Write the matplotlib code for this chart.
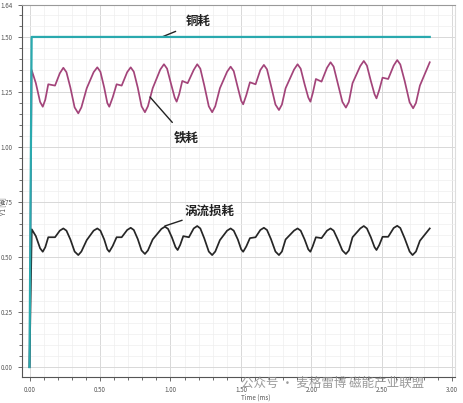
import matplotlib.pyplot as plt
from matplotlib.ticker import MultipleLocator, FixedLocator

plt.rcParams['font.family'] = ['Noto Sans CJK SC', 'DejaVu Sans']

# copper loss (teal)
cu_t = [0.0, 0.015, 2.84]
cu_p = [0.0, 1.50, 1.50]

# iron loss (magenta)
fe_t = [0.000, 0.015, 0.045, 0.075, 0.094, 0.112, 0.133, 0.181, 0.215, 0.240, 0.262, 0.290,
        0.320, 0.346, 0.368, 0.406, 0.455, 0.481, 0.503, 0.530, 0.552, 0.566, 0.590, 0.618,
        0.654, 0.693, 0.718, 0.740, 0.768, 0.795, 0.819, 0.840, 0.874, 0.928, 0.954, 0.976,
        1.005, 1.030, 1.044, 1.062, 1.084, 1.122, 1.165, 1.190, 1.212, 1.240, 1.272, 1.296,
        1.318, 1.351, 1.402, 1.427, 1.449, 1.478, 1.502, 1.516, 1.538, 1.564, 1.604, 1.638,
        1.663, 1.685, 1.713, 1.745, 1.770, 1.791, 1.817, 1.877, 1.902, 1.924, 1.952, 1.978,
        1.993, 2.010, 2.032, 2.072, 2.111, 2.136, 2.158, 2.187, 2.220, 2.245, 2.266, 2.292,
        2.347, 2.372, 2.394, 2.422, 2.448, 2.462, 2.482, 2.505, 2.545, 2.584, 2.609, 2.631,
        2.662, 2.697, 2.722, 2.742, 2.770, 2.840]
fe_p = [0.000, 1.350, 1.290, 1.205, 1.183, 1.215, 1.285, 1.279, 1.335, 1.360, 1.340, 1.270,
        1.180, 1.153, 1.180, 1.267, 1.340, 1.362, 1.342, 1.270, 1.200, 1.183, 1.225, 1.285,
        1.279, 1.340, 1.362, 1.342, 1.270, 1.185, 1.158, 1.185, 1.267, 1.352, 1.376, 1.356,
        1.285, 1.225, 1.206, 1.240, 1.300, 1.290, 1.350, 1.376, 1.356, 1.280, 1.185, 1.158,
        1.185, 1.267, 1.342, 1.365, 1.345, 1.270, 1.210, 1.194, 1.235, 1.294, 1.285, 1.350,
        1.373, 1.353, 1.280, 1.193, 1.168, 1.193, 1.267, 1.352, 1.376, 1.356, 1.285, 1.225,
        1.206, 1.245, 1.309, 1.297, 1.360, 1.385, 1.365, 1.290, 1.205, 1.179, 1.205, 1.290,
        1.368, 1.391, 1.370, 1.300, 1.240, 1.221, 1.260, 1.315, 1.309, 1.370, 1.395, 1.375,
        1.300, 1.203, 1.176, 1.200, 1.279, 1.385]

# eddy current loss (black)
ed_t = [0.000, 0.016, 0.045, 0.075, 0.094, 0.112, 0.133, 0.181, 0.215, 0.240, 0.262, 0.290,
        0.320, 0.346, 0.368, 0.406, 0.455, 0.481, 0.503, 0.530, 0.552, 0.566, 0.590, 0.618,
        0.654, 0.693, 0.718, 0.740, 0.768, 0.795, 0.819, 0.840, 0.874, 0.936, 0.961, 0.983,
        1.010, 1.036, 1.051, 1.069, 1.091, 1.131, 1.165, 1.190, 1.212, 1.240, 1.272, 1.296,
        1.318, 1.351, 1.402, 1.427, 1.449, 1.478, 1.502, 1.516, 1.538, 1.564, 1.604, 1.638,
        1.663, 1.685, 1.713, 1.745, 1.770, 1.791, 1.817, 1.877, 1.902, 1.924, 1.952, 1.978,
        1.993, 2.010, 2.032, 2.072, 2.111, 2.136, 2.158, 2.187, 2.220, 2.245, 2.266, 2.292,
        2.347, 2.372, 2.394, 2.422, 2.448, 2.462, 2.482, 2.505, 2.545, 2.584, 2.609, 2.631,
        2.662, 2.697, 2.718, 2.742, 2.770, 2.840]
ed_p = [0.000, 0.626, 0.595, 0.540, 0.524, 0.545, 0.590, 0.590, 0.620, 0.630, 0.620, 0.580,
        0.525, 0.509, 0.525, 0.577, 0.620, 0.630, 0.620, 0.580, 0.535, 0.524, 0.550, 0.590,
        0.590, 0.623, 0.633, 0.623, 0.582, 0.530, 0.514, 0.530, 0.580, 0.628, 0.638, 0.628,
        0.590, 0.545, 0.532, 0.555, 0.595, 0.590, 0.630, 0.641, 0.630, 0.585, 0.525, 0.509,
        0.525, 0.577, 0.620, 0.630, 0.620, 0.580, 0.535, 0.524, 0.548, 0.586, 0.590, 0.623,
        0.633, 0.623, 0.582, 0.525, 0.509, 0.525, 0.580, 0.620, 0.630, 0.620, 0.580, 0.535,
        0.524, 0.550, 0.590, 0.586, 0.620, 0.630, 0.620, 0.580, 0.530, 0.514, 0.530, 0.590,
        0.630, 0.641, 0.630, 0.590, 0.545, 0.532, 0.555, 0.592, 0.592, 0.632, 0.642, 0.632,
        0.585, 0.525, 0.509, 0.525, 0.574, 0.630]

fig = plt.figure(figsize=(4.63, 4.03), dpi=100)
ax = fig.add_axes([0.047, 0.0645, 0.936, 0.923])

ax.plot(cu_t, cu_p, color='#2aa9ae', lw=1.6, zorder=4)
ax.plot(fe_t, fe_p, color='#a3447a', lw=1.25, zorder=3)
ax.plot(ed_t, ed_p, color='#262626', lw=1.25, zorder=3)

ax.set_xlim(-0.055, 3.02)
ax.set_ylim(-0.045, 1.645)
ax.xaxis.set_major_locator(MultipleLocator(0.5))
ax.xaxis.set_minor_locator(MultipleLocator(0.1))
ax.yaxis.set_major_locator(FixedLocator([0, 0.25, 0.5, 0.75, 1.0, 1.25, 1.5, 1.645]))
ax.yaxis.set_minor_locator(MultipleLocator(0.05))
ax.set_yticklabels(['0.00', '0.25', '0.50', '0.75', '1.00', '1.25', '1.50', '1.64'])
ax.xaxis.set_major_formatter(plt.FormatStrFormatter('%.2f'))

ax.grid(which='major', color='#d8d8d8', lw=0.7)
ax.grid(which='minor', color='#eeeeee', lw=0.5)
ax.set_axisbelow(True)
ax.tick_params(which='both', direction='out', labelsize=4.5, colors='#555555',
               length=3, width=0.6)
ax.tick_params(which='minor', length=2)
for side in ['left', 'bottom']:
    ax.spines[side].set_color('#555555')
    ax.spines[side].set_linewidth(0.8)
ax.spines['top'].set_color('#999999')
ax.spines['right'].set_color('#dddddd')

ax.set_xlabel('Time (ms)', fontsize=4.5, color='#555555')
ax.set_ylabel('Y1 [W]', fontsize=4.5, color='#555555')
ax.xaxis.set_label_coords(0.54, -0.045)
ax.yaxis.set_label_coords(-0.033, 0.46)

ax.annotate('铜耗', xy=(0.94, 1.50), xytext=(1.20, 1.568), fontsize=9, fontweight='bold',
            ha='center', va='center', color='#222222',
            arrowprops=dict(arrowstyle='-', color='#222222', lw=1.0, shrinkB=0, shrinkA=6))
ax.annotate('铁耗', xy=(0.855, 1.227), xytext=(1.11, 1.041), fontsize=9, fontweight='bold',
            ha='center', va='center', color='#222222',
            arrowprops=dict(arrowstyle='-', color='#222222', lw=1.0, shrinkB=0, shrinkA=6))
ax.annotate('涡流损耗', xy=(0.96, 0.641), xytext=(1.28, 0.709), fontsize=9, fontweight='bold',
            ha='center', va='center', color='#222222',
            arrowprops=dict(arrowstyle='-', color='#222222', lw=1.0, shrinkB=0, shrinkA=16))

fig.text(0.52, 0.048, '公众号 · 麦格雷博 磁能产业联盟', fontsize=9, color='#8a8a8a',
         ha='left', va='center', alpha=0.85)

fig.savefig('out.png', dpi=100)
